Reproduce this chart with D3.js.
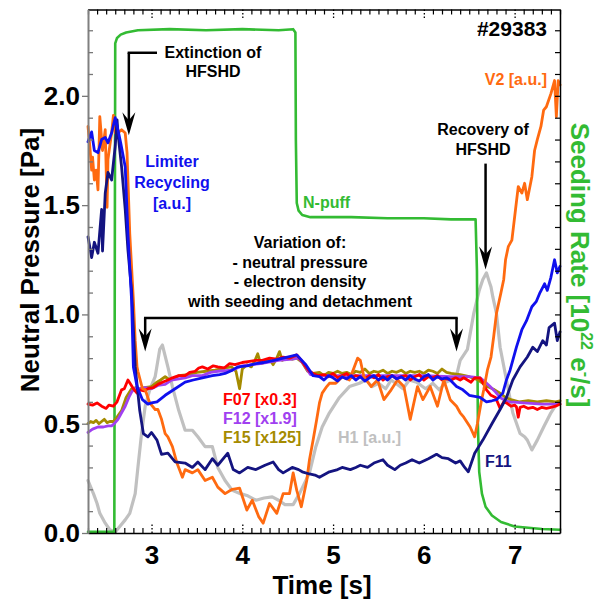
<!DOCTYPE html>
<html>
<head>
  <meta charset="utf-8">
  <script src="https://d3js.org/d3.v7.min.js"></script>
  <style>
    body { margin: 0; background: #fff; }
    .chart text { font-family: "Liberation Sans", Arial, Helvetica, sans-serif; font-weight: bold; }
    .tick text { font-size: 26px; fill: #000; }
    .series { fill: none; stroke-linejoin: round; stroke-linecap: round; }
  </style>
</head>
<body>
  <svg class="chart" width="597" height="599"></svg>
  <script>
    // Constants
    const WIDTH   = 597;
    const HEIGHT  = 599;
    const MARGIN  = { top: 9.5, right: 37, bottom: 66, left: 88 };

    // ---- data (time [s], value) ----
    const X_TICKS = [3, 4, 5, 6, 7];
    const Y_TICKS = [0, 0.5, 1.0, 1.5, 2.0];

    const h1 = [[2.30,0.24],[2.36,0.18],[2.40,0.135],[2.43,0.09],[2.49,0.045],[2.54,0.015],[2.60,0.005],[2.65,0.03],
      [2.71,0.06],[2.76,0.09],[2.82,0.18],[2.85,0.30],[2.89,0.455],[2.93,0.58],[2.98,0.655],[3.04,0.715],[3.09,0.84],
      [3.12,0.86],[3.18,0.76],[3.23,0.67],[3.30,0.56],[3.37,0.47],[3.45,0.47],[3.51,0.44],[3.59,0.395],[3.67,0.395],
      [3.73,0.30],[3.81,0.24],[3.89,0.195],[3.98,0.18],[4.06,0.17],[4.15,0.15],[4.24,0.16],[4.33,0.165],[4.40,0.15],
      [4.47,0.13],[4.56,0.13],[4.63,0.18],[4.74,0.275],[4.81,0.395],[4.88,0.485],[4.96,0.55],[5.07,0.62],[5.18,0.67],
      [5.29,0.685],[5.36,0.70],[5.43,0.67],[5.50,0.685],[5.58,0.66],[5.64,0.70],[5.69,0.685],[5.77,0.66],[5.84,0.70],
      [5.92,0.69],[6.02,0.66],[6.10,0.685],[6.17,0.655],[6.24,0.69],[6.30,0.70],[6.36,0.72],[6.40,0.79],[6.48,0.84],
      [6.55,1.005],[6.61,1.11],[6.65,1.16],[6.69,1.19],[6.72,1.15],[6.74,1.125],[6.76,1.08],[6.80,1.005],[6.84,0.85],
      [6.91,0.70],[6.98,0.55],[7.06,0.455],[7.11,0.44],[7.14,0.425],[7.19,0.38],[7.25,0.425],[7.32,0.485],[7.40,0.55],[7.47,0.595]];

    const seeding = [[2.30,0.005],[2.59,0.005],[2.595,1.2],[2.60,2.24],[2.62,2.265],[2.66,2.28],[2.72,2.29],[2.85,2.30],
      [3.2,2.305],[3.6,2.30],[4.0,2.305],[4.4,2.30],[4.56,2.305],[4.585,2.29],[4.59,1.8],[4.60,1.51],[4.62,1.475],
      [4.66,1.455],[4.75,1.445],[5.2,1.445],[5.6,1.44],[6.0,1.44],[6.3,1.435],[6.57,1.435],[6.585,1.2],[6.595,0.5],
      [6.61,0.28],[6.64,0.18],[6.68,0.12],[6.75,0.08],[6.85,0.05],[7.0,0.03],[7.3,0.018],[7.5,0.015]];

    const f15 = [[2.30,0.50],[2.33,0.51],[2.36,0.505],[2.39,0.515],[2.42,0.50],[2.45,0.51],[2.48,0.52],[2.51,0.505],
      [2.54,0.51],[2.58,0.51],[2.62,0.53],[2.67,0.56],[2.72,0.62],[2.78,0.66],[2.83,0.665],[2.87,0.66],[2.92,0.665],
      [3.0,0.67],[3.06,0.69],[3.10,0.70],[3.15,0.715],[3.20,0.70],[3.26,0.71],[3.3,0.72],[3.4,0.725],[3.5,0.735],
      [3.6,0.74],[3.7,0.745],[3.81,0.755],[3.88,0.76],[3.93,0.74],[3.97,0.66],[4.0,0.75],[4.05,0.77],[4.1,0.76],
      [4.14,0.79],[4.17,0.82],[4.2,0.775],[4.25,0.78],[4.3,0.795],[4.34,0.77],[4.38,0.80],[4.41,0.83],[4.44,0.79],
      [4.5,0.80],[4.55,0.795],[4.6,0.80],[4.66,0.78],[4.72,0.74],[4.78,0.73],[4.85,0.735],[4.9,0.72],[4.95,0.735],
      [5.0,0.73],[5.05,0.74],[5.1,0.73],[5.15,0.735],[5.2,0.725],[5.25,0.74],[5.3,0.735],[5.35,0.75],[5.4,0.73],
      [5.45,0.74],[5.5,0.735],[5.55,0.745],[5.6,0.73],[5.65,0.74],[5.7,0.735],[5.75,0.745],[5.8,0.73],[5.85,0.74],
      [5.9,0.735],[5.95,0.74],[6.0,0.73],[6.05,0.745],[6.1,0.74],[6.15,0.73],[6.2,0.75],[6.25,0.735],[6.3,0.73],
      [6.4,0.725],[6.5,0.715],[6.6,0.70],[6.7,0.67],[6.78,0.655],[6.84,0.64],[6.9,0.62],[6.96,0.61],[7.05,0.60],
      [7.15,0.605],[7.25,0.60],[7.35,0.605],[7.45,0.60],[7.5,0.605]];

    const f12 = [[2.30,0.46],[2.35,0.475],[2.41,0.485],[2.47,0.485],[2.52,0.49],[2.56,0.49],[2.59,0.50],[2.63,0.52],
      [2.67,0.55],[2.71,0.58],[2.75,0.62],[2.78,0.645],[2.81,0.66],[2.87,0.66],[2.93,0.665],[3.0,0.66],[3.07,0.675],
      [3.15,0.68],[3.22,0.70],[3.37,0.71],[3.45,0.72],[3.56,0.72],[3.65,0.735],[3.73,0.74],[3.89,0.745],[4.0,0.765],
      [4.2,0.775],[4.4,0.79],[4.55,0.795],[4.62,0.80],[4.68,0.77],[4.75,0.725],[4.85,0.72],[5.2,0.72],[5.6,0.72],
      [6.0,0.72],[6.29,0.715],[6.5,0.715],[6.62,0.71],[6.68,0.69],[6.73,0.67],[6.79,0.645],[6.84,0.62],[6.9,0.605],
      [6.95,0.60],[7.1,0.595],[7.3,0.59],[7.5,0.59]];

    const f07 = [[2.30,0.59],[2.35,0.585],[2.40,0.595],[2.45,0.58],[2.50,0.57],[2.53,0.585],[2.58,0.58],[2.62,0.60],
      [2.67,0.655],[2.70,0.66],[2.74,0.70],[2.77,0.68],[2.80,0.66],[2.84,0.64],[2.87,0.655],[2.92,0.65],[2.96,0.66],
      [3.02,0.665],[3.07,0.68],[3.12,0.69],[3.18,0.70],[3.23,0.71],[3.30,0.72],[3.37,0.72],[3.42,0.735],[3.48,0.74],
      [3.52,0.755],[3.56,0.76],[3.62,0.75],[3.68,0.765],[3.73,0.76],[3.80,0.755],[3.86,0.775],[3.92,0.77],[4.0,0.78],
      [4.08,0.785],[4.15,0.79],[4.22,0.79],[4.30,0.80],[4.38,0.795],[4.45,0.805],[4.52,0.80],[4.60,0.815],[4.65,0.79],
      [4.70,0.76],[4.74,0.74],[4.78,0.73],[4.83,0.72],[4.9,0.725],[4.95,0.715],[5.0,0.73],[5.05,0.71],[5.1,0.72],
      [5.15,0.73],[5.2,0.71],[5.25,0.72],[5.3,0.715],[5.35,0.705],[5.4,0.72],[5.45,0.71],[5.5,0.725],[5.55,0.70],
      [5.6,0.715],[5.65,0.72],[5.7,0.705],[5.75,0.715],[5.8,0.72],[5.85,0.70],[5.9,0.715],[5.95,0.725],[6.0,0.70],
      [6.05,0.715],[6.1,0.71],[6.15,0.72],[6.2,0.70],[6.25,0.705],[6.3,0.70],[6.35,0.71],[6.4,0.70],[6.44,0.71],
      [6.48,0.70],[6.52,0.69],[6.56,0.71],[6.62,0.71],[6.66,0.68],[6.69,0.655],[6.74,0.63],[6.79,0.62],[6.84,0.57],
      [6.88,0.60],[6.91,0.595],[6.96,0.58],[7.0,0.585],[7.02,0.577],[7.04,0.53],[7.06,0.575],[7.1,0.58],[7.15,0.57],
      [7.2,0.575],[7.25,0.565],[7.3,0.575],[7.35,0.57],[7.4,0.575],[7.45,0.58],[7.5,0.59]];

    const v2 = [[2.30,1.86],[2.32,1.77],[2.34,1.66],[2.35,1.72],[2.37,1.615],[2.39,1.66],[2.41,1.57],[2.43,1.905],
      [2.46,1.75],[2.49,1.845],[2.51,1.49],[2.52,1.71],[2.54,1.77],[2.56,1.83],[2.58,1.91],[2.60,1.83],[2.63,1.83],
      [2.67,1.845],[2.71,1.83],[2.73,1.74],[2.76,1.37],[2.80,1.066],[2.82,0.88],[2.84,0.76],[2.85,0.74],[2.90,0.66],
      [2.93,0.655],[2.98,0.595],[3.04,0.565],[3.07,0.565],[3.11,0.52],[3.15,0.455],[3.18,0.44],[3.23,0.395],[3.28,0.32],
      [3.34,0.255],[3.37,0.29],[3.45,0.275],[3.51,0.29],[3.59,0.24],[3.67,0.255],[3.73,0.21],[3.81,0.18],[3.89,0.20],
      [3.97,0.205],[4.05,0.105],[4.11,0.15],[4.18,0.075],[4.23,0.045],[4.30,0.135],[4.38,0.09],[4.45,0.18],[4.52,0.18],
      [4.56,0.275],[4.60,0.195],[4.65,0.12],[4.71,0.24],[4.74,0.335],[4.78,0.425],[4.82,0.52],[4.85,0.595],[4.88,0.64],
      [4.93,0.67],[4.96,0.685],[5.03,0.685],[5.10,0.715],[5.18,0.70],[5.27,0.80],[5.30,0.79],[5.34,0.715],[5.42,0.67],
      [5.49,0.70],[5.56,0.61],[5.64,0.655],[5.71,0.70],[5.78,0.67],[5.85,0.52],[5.93,0.67],[5.99,0.61],[6.07,0.67],
      [6.15,0.58],[6.22,0.70],[6.29,0.61],[6.36,0.58],[6.40,0.55],[6.44,0.53],[6.51,0.485],[6.56,0.44],[6.59,0.50],
      [6.63,0.595],[6.66,0.655],[6.70,0.745],[6.74,0.805],[6.77,0.90],[6.80,1.005],[6.85,1.10],[6.88,1.16],[6.90,1.25],
      [6.93,1.31],[6.97,1.34],[7.01,1.48],[7.04,1.585],[7.08,1.555],[7.11,1.60],[7.14,1.525],[7.19,1.63],[7.22,1.75],
      [7.25,1.80],[7.29,1.86],[7.32,1.935],[7.35,1.95],[7.40,2.01],[7.44,2.07],[7.46,1.905],[7.48,2.07],[7.5,2.05]];

    const f11 = [[2.30,1.355],[2.34,1.26],[2.37,1.33],[2.41,1.28],[2.45,1.48],[2.46,1.29],[2.49,1.555],[2.52,1.65],
      [2.56,1.615],[2.60,1.77],[2.62,1.89],[2.63,1.83],[2.67,1.675],[2.71,1.48],[2.74,1.295],[2.78,1.11],[2.82,0.76],
      [2.87,0.56],[2.91,0.455],[2.96,0.44],[3.00,0.46],[3.06,0.425],[3.11,0.36],[3.18,0.365],[3.26,0.325],[3.37,0.32],
      [3.45,0.30],[3.51,0.325],[3.59,0.29],[3.67,0.34],[3.73,0.31],[3.84,0.365],[3.90,0.29],[3.97,0.275],[4.06,0.30],
      [4.15,0.29],[4.25,0.31],[4.34,0.325],[4.40,0.29],[4.45,0.275],[4.55,0.30],[4.62,0.29],[4.66,0.28],[4.74,0.27],
      [4.80,0.265],[4.85,0.255],[4.96,0.28],[5.05,0.29],[5.10,0.30],[5.19,0.29],[5.25,0.30],[5.30,0.31],[5.38,0.30],
      [5.45,0.32],[5.55,0.335],[5.6,0.31],[5.68,0.29],[5.74,0.31],[5.8,0.32],[5.87,0.335],[5.95,0.32],[6.05,0.34],
      [6.14,0.36],[6.2,0.345],[6.27,0.34],[6.35,0.32],[6.40,0.33],[6.45,0.30],[6.49,0.28],[6.56,0.365],[6.65,0.425],
      [6.75,0.50],[6.84,0.565],[6.91,0.62],[6.98,0.70],[7.06,0.76],[7.14,0.805],[7.20,0.85],[7.25,0.83],[7.31,0.88],
      [7.35,0.86],[7.38,0.94],[7.44,0.96],[7.47,0.88],[7.5,0.92]];

    const limiter = [[2.30,1.79],[2.34,1.835],[2.37,1.75],[2.41,1.74],[2.45,1.80],[2.49,1.81],[2.52,1.785],[2.56,1.83],
      [2.60,1.90],[2.63,1.845],[2.66,1.785],[2.71,1.675],[2.74,1.37],[2.78,1.066],[2.80,0.76],[2.84,0.67],[2.90,0.61],
      [2.96,0.59],[3.00,0.595],[3.06,0.60],[3.15,0.63],[3.26,0.66],[3.37,0.69],[3.46,0.70],[3.56,0.71],[3.67,0.72],
      [3.75,0.725],[3.81,0.73],[3.89,0.745],[3.95,0.76],[4.05,0.765],[4.15,0.775],[4.23,0.78],[4.35,0.79],[4.45,0.80],
      [4.6,0.815],[4.7,0.77],[4.78,0.72],[4.85,0.715],[4.9,0.70],[4.95,0.72],[5.0,0.71],[5.05,0.695],[5.1,0.715],
      [5.15,0.705],[5.2,0.72],[5.25,0.70],[5.3,0.715],[5.35,0.695],[5.4,0.71],[5.45,0.72],[5.5,0.70],[5.55,0.715],
      [5.6,0.70],[5.65,0.72],[5.7,0.705],[5.75,0.715],[5.8,0.70],[5.85,0.72],[5.9,0.705],[5.95,0.695],[6.0,0.715],
      [6.05,0.725],[6.1,0.70],[6.15,0.715],[6.2,0.705],[6.25,0.71],[6.29,0.70],[6.36,0.67],[6.43,0.655],[6.5,0.63],
      [6.56,0.625],[6.62,0.62],[6.69,0.60],[6.75,0.605],[6.80,0.61],[6.87,0.64],[6.91,0.70],[6.95,0.745],[7.02,0.85],
      [7.08,0.93],[7.13,0.97],[7.19,1.035],[7.24,1.06],[7.28,1.10],[7.33,1.14],[7.36,1.11],[7.40,1.17],[7.44,1.25],
      [7.47,1.19],[7.5,1.22]];

    // ---- scales ----
    const xScale = d3.scaleLinear().domain([2.3, 7.5]).range([MARGIN.left, WIDTH - MARGIN.right]);
    const yScale = d3.scaleLinear().domain([0, 2.395]).range([HEIGHT - MARGIN.bottom, MARGIN.top]);
    const yRight = d3.scaleLinear().domain([0, 2.395]).range([HEIGHT - MARGIN.bottom, MARGIN.top]);

    const svg = d3.select(".chart");
    const x0 = MARGIN.left, x1 = WIDTH - MARGIN.right;
    const y0 = HEIGHT - MARGIN.bottom, y1 = MARGIN.top;

    const plot = svg.append("g");
    const line = d3.line().x(d => xScale(d[0])).y(d => yScale(d[1]));
    const lineR = d3.line().x(d => xScale(d[0])).y(d => yRight(d[1]));

    function drawSeries(data, color, width, gen) {
      plot.append("path").attr("class", "series")
        .attr("d", (gen || line)(data))
        .attr("stroke", color).attr("stroke-width", width);
    }

    drawSeries(h1, "#c0c0c0", 3.2);
    drawSeries(seeding, "#33bb33", 2.6, lineR);
    drawSeries(f15, "#a58b00", 2.8);
    drawSeries(f12, "#a040f0", 2.8);
    drawSeries(f07, "#ff0000", 2.8);
    drawSeries(v2, "#ff6a10", 2.8);
    drawSeries(f11, "#141480", 2.8);
    drawSeries(limiter, "#1010ee", 2.8);

    // ---- axes ----
    const minorX = d3.range(23, 76).map(d => d / 10).filter(d => d % 1 !== 0);
    const minorY = d3.range(1, 24).map(d => d / 10);

    // bottom
    svg.append("g").attr("transform", `translate(0,${y0})`)
      .call(d3.axisTop(xScale).tickValues(minorX).tickSize(5).tickSizeOuter(0).tickFormat(""))
      .call(g => g.selectAll("line").attr("stroke", "#000").attr("stroke-width", 1.2))
      .call(g => g.select(".domain").attr("stroke", "#000").attr("stroke-width", 1.5));
    svg.append("g").attr("transform", `translate(0,${y0})`)
      .call(d3.axisTop(xScale).tickValues(X_TICKS).tickSize(9).tickFormat(""))
      .call(g => g.select(".domain").remove())
      .call(g => g.selectAll("line").attr("stroke", "#000").attr("stroke-width", 1.3).attr("stroke-dasharray", "1.5,2"));
    svg.append("g").attr("transform", `translate(0,${y0})`)
      .call(d3.axisBottom(xScale).tickValues(X_TICKS).tickSize(0).tickPadding(13).tickFormat(d3.format("d")))
      .call(g => g.select(".domain").remove());

    // top
    svg.append("g").attr("transform", `translate(0,${y1})`)
      .call(d3.axisBottom(xScale).tickValues(minorX).tickSize(5).tickSizeOuter(0).tickFormat(""))
      .call(g => g.selectAll("line").attr("stroke", "#000").attr("stroke-width", 1.2))
      .call(g => g.select(".domain").attr("stroke", "#000").attr("stroke-width", 1.5));
    svg.append("g").attr("transform", `translate(0,${y1})`)
      .call(d3.axisBottom(xScale).tickValues(X_TICKS).tickSize(9).tickFormat(""))
      .call(g => g.select(".domain").remove())
      .call(g => g.selectAll("line").attr("stroke", "#000").attr("stroke-width", 1.3).attr("stroke-dasharray", "1.5,2"));

    // left (grey)
    svg.append("g").attr("transform", `translate(${x0},0)`)
      .call(d3.axisRight(yScale).tickValues(minorY.filter(d => Math.round(d * 10) % 5 !== 0)).tickSize(5).tickSizeOuter(0).tickFormat(""))
      .call(g => g.selectAll("line").attr("stroke", "#777").attr("stroke-width", 1.3))
      .call(g => g.select(".domain").attr("stroke", "#808080").attr("stroke-width", 2));
    svg.append("g").attr("transform", `translate(${x0},0)`)
      .call(d3.axisLeft(yScale).tickValues(Y_TICKS).tickSize(6).tickPadding(2).tickFormat(d3.format(".1f")))
      .call(g => g.select(".domain").remove())
      .call(g => g.selectAll("line").attr("stroke", "#777").attr("stroke-width", 1.3));

    // right (no labels)
    svg.append("g").attr("transform", `translate(${x1},0)`)
      .call(d3.axisLeft(yRight).tickValues(minorY).tickSize(5).tickSizeOuter(0).tickFormat(""))
      .call(g => g.selectAll("line").attr("stroke", "#000").attr("stroke-width", 1.2))
      .call(g => g.select(".domain").attr("stroke", "#000").attr("stroke-width", 1.5));

    // ---- axis titles ----
    svg.append("text").attr("x", (x0 + x1) / 2 - 2).attr("y", 594)
      .attr("text-anchor", "middle").style("font-size", "26px").text("Time [s]");
    svg.append("text").attr("transform", "translate(39,260) rotate(-90)")
      .attr("text-anchor", "middle").style("font-size", "26px").text("Neutral Pressure [Pa]");
    const rt = svg.append("text").attr("transform", "translate(571,265) rotate(90)")
      .attr("text-anchor", "middle").style("font-size", "26px").attr("fill", "#33bb33");
    rt.append("tspan").text("Seeding Rate [10");
    rt.append("tspan").attr("dy", -10).style("font-size", "16px").text("22");
    rt.append("tspan").attr("dy", 10).text(" e");
    rt.append("tspan").attr("dy", -10).style("font-size", "16px").text("-");
    rt.append("tspan").attr("dy", 10).text("/s]");

    // ---- annotations ----
    function label(lines, x, y, color, anchor, size, gap) {
      const t = svg.append("text").attr("text-anchor", anchor || "middle")
        .attr("fill", color).style("font-size", (size || 16) + "px");
      lines.forEach((s, i) => t.append("tspan").attr("x", x).attr("y", y + i * (gap || 20)).text(s));
    }
    function arrowDown(x, yTop, yTip) {
      svg.append("line").attr("x1", x).attr("x2", x).attr("y1", yTop).attr("y2", yTip - 12)
        .attr("stroke", "#000").attr("stroke-width", 2.5);
      svg.append("path")
        .attr("d", `M${x},${yTip} L${x - 6.5},${yTip - 23} L${x},${yTip - 15} L${x + 6.5},${yTip - 23} Z`)
        .attr("fill", "#000");
    }

    // Extinction of HFSHD
    const ext = { t: 2.75, v0: 2.197, v1: 1.82, tEnd: 3.06 };
    svg.append("line").attr("x1", xScale(ext.t) - 1.2).attr("x2", xScale(ext.tEnd))
      .attr("y1", yScale(ext.v0)).attr("y2", yScale(ext.v0)).attr("stroke", "#000").attr("stroke-width", 2.5);
    arrowDown(xScale(ext.t), yScale(ext.v0), yScale(ext.v1));
    label(["Extinction of", "HFSHD"], 213, 58, "#000", "middle", 16, 19);

    // Recovery of HFSHD
    arrowDown(xScale(6.68), yScale(1.69), yScale(1.205));
    label(["Recovery of", "HFSHD"], 483, 135, "#000", "middle", 16, 20);

    // variation bracket
    const br = { t0: 2.93, t1: 6.36, v: 0.984, tip: 0.83 };
    svg.append("line").attr("x1", xScale(br.t0) - 1.2).attr("x2", xScale(br.t1) + 1.2)
      .attr("y1", yScale(br.v)).attr("y2", yScale(br.v)).attr("stroke", "#000").attr("stroke-width", 2.5);
    arrowDown(xScale(br.t0), yScale(br.v), yScale(br.tip));
    arrowDown(xScale(br.t1), yScale(br.v), yScale(br.tip));
    label(["Variation of:", "- neutral pressure", "- electron density", "with seeding and detachment"],
      300, 248, "#000", "middle", 16, 19.5);

    label(["Limiter", "Recycling", "[a.u.]"], 172, 167, "#1010ee", "middle", 16, 21);
    label(["N-puff"], 303, 208, "#33bb33", "start", 16);
    label(["#29383"], 547, 36, "#000", "end", 21);
    label(["V2 [a.u.]"], 547, 85, "#ff6a10", "end", 16);
    label(["F07 [x0.3]"], 223, 405, "#ff0000", "start", 16);
    label(["F12 [x1.9]"], 223, 424, "#a040f0", "start", 16);
    label(["F15 [x125]"], 223, 443, "#a58b00", "start", 16);
    label(["H1 [a.u.]"], 338, 443, "#c0c0c0", "start", 16);
    label(["F11"], 485, 467, "#141480", "start", 16);
  </script>
</body>
</html>
